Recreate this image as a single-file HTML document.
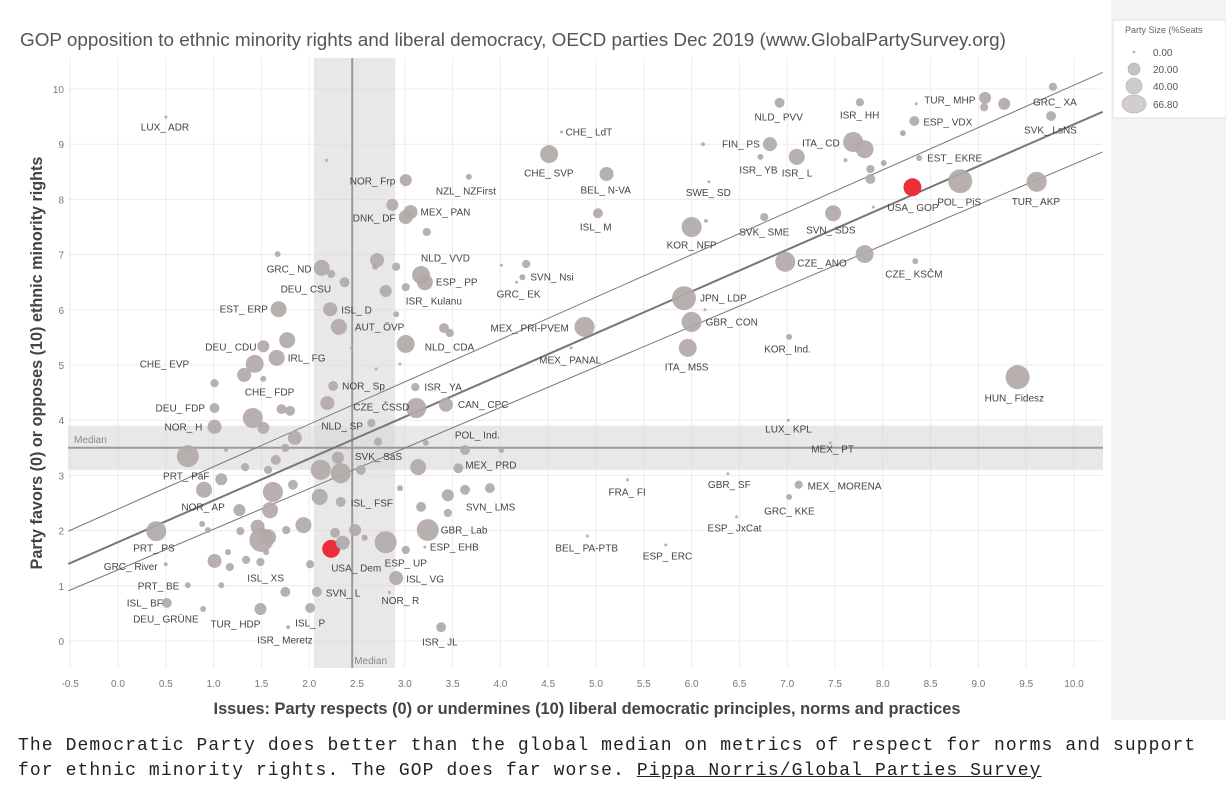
<!DOCTYPE html>
<html><head><meta charset="utf-8">
<style>
html,body{margin:0;padding:0;background:#fff;width:1226px;height:808px;overflow:hidden;}
svg text{font-family:"Liberation Sans",sans-serif;}
.cap{position:absolute;left:18px;top:734px;font-family:"Liberation Mono",monospace;font-size:18px;letter-spacing:1.1px;color:#222;line-height:25px;white-space:pre;}
.cap u{text-decoration:underline;}
</style></head>
<body>
<svg id="chart" width="1226" height="730" style="position:absolute;left:0;top:0">
<rect x="1111" y="0" width="115" height="720" fill="#f3f3f3"/>
<g>
<rect x="1113" y="20" width="113" height="98" fill="#fff" stroke="#e2e2e2"/>
<text x="1125" y="33" font-size="9" fill="#666">Party Size (%Seats</text>
<circle cx="1134" cy="52" r="1.3" fill="#b5acac"/>
<text x="1153" y="56" font-size="10" fill="#555">0.00</text>
<circle cx="1134" cy="69" r="6" fill="#c8c2c2" stroke="#aaa" stroke-width="0.6"/>
<text x="1153" y="73" font-size="10" fill="#555">20.00</text>
<circle cx="1134" cy="86" r="8" fill="#d0cbcb" stroke="#aaa" stroke-width="0.6"/>
<text x="1153" y="90" font-size="10" fill="#555">40.00</text>
<ellipse cx="1134" cy="104" rx="12" ry="9" fill="#d3cece" stroke="#aaa" stroke-width="0.6"/>
<text x="1153" y="108" font-size="10" fill="#555">66.80</text>
</g>
<text x="20" y="46" font-size="18.9" fill="#555">GOP opposition to ethnic minority rights and  liberal democracy, OECD parties Dec 2019 (www.GlobalPartySurvey.org)</text>
<g id="grid"></g>
<g id="bands"></g>
<g id="fit"></g>
<g id="pts"></g>
<g id="labels"></g>
<g id="ticks"></g>
<text x="587" y="714" font-size="16.4" font-weight="bold" fill="#444" text-anchor="middle">Issues: Party respects (0) or undermines (10) liberal democratic principles, norms and practices</text>
<text transform="translate(42,363) rotate(-90)" font-size="16.2" font-weight="bold" fill="#444" text-anchor="middle">Party favors (0) or opposes (10) ethnic minority rights</text>
</svg>
<div class="cap">The Democratic Party does better than the global median on metrics of respect for norms and support
for ethnic minority rights. The GOP does far worse. <u>Pippa Norris/Global Parties Survey</u></div>
<script>
const xTicks=["-0.5","0.0","0.5","1.0","1.5","2.0","2.5","3.0","3.5","4.0","4.5","5.0","5.5","6.0","6.5","7.0","7.5","8.0","8.5","9.0","9.5","10.0"];
const yTicks=["0","1","2","3","4","5","6","7","8","9","10"];
const medianX=2.45, medianY=3.5;
const bandX=[2.05,2.9], bandY=[3.1,3.9];
const fitMain=[1.79,0.757], fitUpper=[2.39,0.768], fitLower=[1.29,0.735];
const names=["NLD_ PVV","ISR_ HH","TUR_ MHP","","","","GRC_ XA","SVK_ LsNS","ESP_ VDX","CHE_ LdT","CHE_ SVP","BEL_ N-VA","NZL_ NZFirst","","FIN_ PS","ITA_ CD","","ISR_ YB","ISR_ L","","EST_ EKRE","","","","","USA_ GOP","POL_ PiS","TUR_ AKP","SWE_ SD","ISL_ M","KOR_ NFP","","SVK_ SME","SVN_ SDS","","CZE_ ANO","","CZE_ KSČM","","","SVN_ Nsi","GRC_ EK","JPN_ LDP","","GBR_ CON","MEX_ PRI-PVEM","MEX_ PANAL","ITA_ M5S","KOR_ Ind.","HUN_ Fidesz","LUX_ KPL","MEX_ PT","MEX_ MORENA","GBR_ SF","FRA_ FI","GRC_ KKE","ESP_ JxCat","BEL_ PA-PTB","ESP_ ERC",
"LUX_ ADR","","NOR_ Frp","","DNK_ DF","MEX_ PAN","","","GRC_ ND","","","","","NLD_ VVD","ESP_ PP","DEU_ CSU","","ISR_ Kulanu","EST_ ERP","ISL_ D","","AUT_ ÖVP","","","","NLD_ CDA","DEU_ CDU","IRL_ FG","CHE_ EVP","","","","","","",
"NOR_ Sp","ISR_ YA","DEU_ FDP","CHE_ FDP","","","","CZE_ ČSSD","CAN_ CPC","NOR_ H","","","","NLD_ SP","","","","POL_ Ind.","","","","","","SVK_ SaS","","","MEX_ PRD","","","PRT_ PàF","","","","","","ISL_ FSF","","","","","SVN_ LMS","","NOR_ AP","","PRT_ PS","","","","","","","","","","","ESP_ UP","GBR_ Lab","","ESP_ EHB","USA_ Dem","","","","","","","","","GRC_ River","ISL_ VG","PRT_ BE","","ISL_ XS","SVN_ L","ISL_ BF","DEU_ GRÜNE","TUR_ HDP","ISL_ P","ISR_ Meretz","ISR_ JL","NOR_ R"];
const xVals=[6.92,7.76,8.35,9.07,9.06,9.27,9.78,9.76,8.33,4.64,4.51,5.11,3.67,6.12,6.82,7.69,7.81,6.72,7.10,8.21,8.38,7.61,7.87,8.01,7.87,8.31,8.81,9.61,6.18,5.02,6.00,6.15,6.76,7.48,7.90,6.98,7.81,8.34,4.01,4.27,4.23,4.17,5.92,6.14,6.00,4.88,4.74,5.96,7.02,9.41,7.01,7.45,7.12,6.38,5.33,7.02,6.47,4.91,5.73,
0.50,2.18,3.01,2.87,3.01,3.06,3.23,1.67,2.13,2.23,2.71,2.69,2.91,3.17,3.21,2.37,2.80,3.01,1.68,2.22,2.91,2.31,3.41,3.47,1.77,3.01,1.52,1.66,1.43,1.32,1.52,1.01,2.44,2.70,2.95,
2.25,3.11,1.01,1.41,1.71,1.80,2.19,3.12,3.43,1.01,1.52,1.85,1.75,2.65,2.72,0.73,1.13,3.22,3.63,4.01,1.65,2.12,2.33,2.30,2.54,3.14,3.56,1.33,1.57,0.90,1.08,1.62,1.59,1.83,2.11,2.33,2.95,3.45,3.63,3.89,3.45,3.17,1.27,0.88,0.40,0.94,1.28,1.46,1.50,1.57,1.76,1.94,2.27,2.48,2.58,2.80,3.24,3.01,3.21,2.23,2.35,1.15,1.01,1.17,1.34,1.49,1.55,2.01,0.50,2.91,0.73,1.08,1.75,2.08,0.51,0.89,1.49,2.01,1.78,3.38,2.84];
const yVals=[9.75,9.76,9.73,9.84,9.67,9.73,10.04,9.51,9.42,9.22,8.82,8.46,8.41,9.00,9.00,9.04,8.91,8.77,8.77,9.20,8.75,8.71,8.55,8.66,8.37,8.22,8.33,8.32,8.32,7.75,7.50,7.61,7.68,7.75,7.86,6.87,7.01,6.88,6.81,6.83,6.59,6.50,6.21,6.00,5.78,5.69,5.31,5.31,5.51,4.78,4.00,3.59,2.83,3.03,2.92,2.61,2.25,1.90,1.74,
9.49,8.71,8.35,7.90,7.68,7.77,7.41,7.01,6.76,6.65,6.90,6.78,6.78,6.63,6.50,6.50,6.34,6.41,6.01,6.01,5.92,5.69,5.67,5.58,5.45,5.38,5.34,5.13,5.02,4.82,4.75,4.67,5.31,4.93,5.02,
4.62,4.60,4.22,4.04,4.20,4.17,4.31,4.22,4.28,3.88,3.86,3.68,3.50,3.95,3.61,3.35,3.46,3.59,3.46,3.46,3.28,3.10,3.04,3.32,3.10,3.15,3.13,3.15,3.10,2.74,2.93,2.70,2.37,2.83,2.61,2.52,2.77,2.64,2.74,2.77,2.32,2.43,2.37,2.12,1.99,2.01,1.99,2.07,1.83,1.88,2.01,2.10,1.96,2.01,1.87,1.79,2.01,1.65,1.70,1.67,1.78,1.61,1.45,1.34,1.47,1.43,1.61,1.39,1.39,1.14,1.01,1.01,0.89,0.89,0.69,0.58,0.58,0.60,0.25,0.25,0.88];
const sizes=[7,4,0,12,4,12,4,7,7,0,33,18,1.3,0.1,18,43,33,1.3,25,1.3,1.3,0.1,4,1.3,7,33,65,43,0,7,43,0.1,4,25,0,43,33,1.3,0,4,1.3,0,65,0,43,43,0,33,1.3,65,0,0,4,0,0,1.3,0,0,0,
0,0,12,12,18,18,4,1.3,25,4,18,1.3,4,33,25,7,12,4,25,18,1.3,25,7,4,25,33,12,25,33,18,1.3,4,0,0,0,
7,4,7,43,7,7,18,43,18,18,12,18,4,4,4,53,0.1,1.3,7,1.3,7,43,43,12,7,25,7,4,4,25,12,43,25,7,25,7,1.3,12,7,7,4,7,12,1.3,43,1.3,4,18,65,25,4,25,7,12,1.3,53,53,4,0,33,18,1.3,18,4,4,4,1.3,4,0.1,18,1.3,1.3,7,7,7,1.3,12,7,0.1,7,0];
const highlight={"USA_ GOP":1,"USA_ Dem":1};
const labelOff={"NLD_ PVV":[-25,14],"ISR_ HH":[-20,13],"TUR_ MHP":[8,-4],"GRC_ XA":[-20,15],"SVK_ LsNS":[-27,14],"ESP_ VDX":[9,1],"CHE_ LdT":[4,0],"CHE_ SVP":[-25,19],"BEL_ N-VA":[-26,16],"NZL_ NZFirst":[-33,14],"FIN_ PS":[-48,0],"ITA_ CD":[-51,1],"ISR_ YB":[-21,13],"ISR_ L":[-15,16],"EST_ EKRE":[8,0],"USA_ GOP":[-25,20],"POL_ PiS":[-23,21],"TUR_ AKP":[-25,20],"SWE_ SD":[-23,11],"ISL_ M":[-18,14],"KOR_ NFP":[-25,18],"SVK_ SME":[-25,15],"SVN_ SDS":[-27,17],"CZE_ ANO":[12,1],"CZE_ KSČM":[-30,13],"SVN_ Nsi":[8,0],"GRC_ EK":[-20,12],"JPN_ LDP":[16,0],"GBR_ CON":[14,0],"MEX_ PRI-PVEM":[-94,1],"MEX_ PANAL":[-32,12],"ITA_ M5S":[-23,19],"KOR_ Ind.":[-25,12],"HUN_ Fidesz":[-33,21],"LUX_ KPL":[-23,9],"MEX_ PT":[-19,6],"MEX_ MORENA":[9,1],"GBR_ SF":[-20,11],"FRA_ FI":[-19,12],"GRC_ KKE":[-25,14],"ESP_ JxCat":[-29,11],"BEL_ PA-PTB":[-32,12],"ESP_ ERC":[-23,11],
"LUX_ ADR":[-25,10],"NOR_ Frp":[-56,1],"DNK_ DF":[-53,1],"MEX_ PAN":[10,0],"GRC_ ND":[-55,1],"NLD_ VVD":[0,-17],"ESP_ PP":[11,0],"DEU_ CSU":[-64,7],"ISR_ Kulanu":[0,14],"EST_ ERP":[-59,0],"ISL_ D":[11,1],"AUT_ ÖVP":[16,0],"NLD_ CDA":[19,3],"DEU_ CDU":[-58,1],"IRL_ FG":[11,0],"CHE_ EVP":[-115,0],
"NOR_ Sp":[9,0],"ISR_ YA":[9,0],"DEU_ FDP":[-59,0],"CHE_ FDP":[-8,-26],"CZE_ ČSSD":[-63,-1],"CAN_ CPC":[12,0],"NOR_ H":[-50,0],"NLD_ SP":[-50,3],"POL_ Ind.":[29,-8],"SVK_ SaS":[17,-1],"MEX_ PRD":[7,-3],"PRT_ PàF":[-41,-14],"ISL_ FSF":[10,1],"SVN_ LMS":[18,-6],"NOR_ AP":[-58,-3],"PRT_ PS":[-23,17],"ESP_ UP":[-1,21],"GBR_ Lab":[13,0],"ESP_ EHB":[5,0],"USA_ Dem":[0,19],"GRC_ River":[-62,2],"ISL_ VG":[10,1],"PRT_ BE":[-50,1],"ISL_ XS":[-38,-14],"SVN_ L":[9,1],"ISL_ BF":[-40,0],"DEU_ GRÜNE":[-70,10],"TUR_ HDP":[-50,15],"ISL_ P":[-15,15],"ISR_ Meretz":[-31,13],"ISR_ JL":[-19,15],"NOR_ R":[-8,8]};

const NS="http://www.w3.org/2000/svg";
const X0=68,X1=1103,Y0=58,Y1=668;
function sx(v){return 118+95.6*v;}
function sy(v){return 641-55.2*v;}
function rad(s){return 1.5+1.3*Math.sqrt(s);}
function mk(tag,parent,attrs){const e=document.createElementNS(NS,tag);for(const k in attrs)e.setAttribute(k,attrs[k]);document.getElementById(parent).appendChild(e);return e;}

xTicks.forEach(function(t){const v=parseFloat(t);
  const l=mk('line','grid',{x1:sx(v),x2:sx(v),y1:Y0,y2:Y1,stroke:'#ececec','stroke-width':1});
  
  
  const tx=mk('text','ticks',{x:sx(v),y:687,'font-size':10,fill:'#777','text-anchor':'middle'});tx.textContent=t;
  
  
});
yTicks.forEach(function(t){const v=parseFloat(t);
  const l=mk('line','grid',{x1:X0,x2:X1,y1:sy(v),y2:sy(v),stroke:'#ececec','stroke-width':1});
  
  
  const tx=mk('text','ticks',{x:64,y:sy(v)+4,'font-size':10,fill:'#777','text-anchor':'end'});tx.textContent=t;
  
  
});
let b=mk('rect','bands',{x:sx(bandX[0]),y:Y0,width:sx(bandX[1])-sx(bandX[0]),height:Y1-Y0,fill:'#d6d6d6','fill-opacity':0.55});


b=mk('rect','bands',{x:X0,y:sy(bandY[1]),width:X1-X0,height:sy(bandY[0])-sy(bandY[1]),fill:'#d6d6d6','fill-opacity':0.55});


b=mk('line','bands',{x1:sx(medianX),x2:sx(medianX),y1:Y0,y2:Y1,stroke:'#9a9a9a','stroke-width':2});


b=mk('line','bands',{x1:X0,x2:X1,y1:sy(medianY),y2:sy(medianY),stroke:'#9a9a9a','stroke-width':2});


let mt=mk('text','bands',{x:74,y:sy(medianY)-5,'font-size':10,fill:'#888'});mt.textContent='Median';


mt=mk('text','bands',{x:sx(medianX)+2,y:664,'font-size':10,fill:'#888'});mt.textContent='Median';


[[fitUpper,1,'fit-upper-bound'],[fitMain,2,'fit-line'],[fitLower,1,'fit-lower-bound']].forEach(function(f){
  const xa=-0.52,xb=10.3;
  const l=mk('line','fit',{x1:sx(xa),y1:sy(f[0][0]+f[0][1]*xa),x2:sx(xb),y2:sy(f[0][0]+f[0][1]*xb),stroke:'#777','stroke-width':f[1]});
  
  
});
names.forEach(function(n,i){
  const red=!!highlight[n];
  const c=mk('circle','pts',{cx:sx(xVals[i]),cy:sy(yVals[i]),r:rad(sizes[i]),fill:red?'#ec2d3a':'#b2a8a8','fill-opacity':red?1:0.92});
  
  
  if(n&&labelOff[n]){
    const o=labelOff[n];
    const t=mk('text','labels',{x:sx(xVals[i])+o[0],y:sy(yVals[i])+o[1]+3.5,'font-size':10,fill:'#444'});
    t.textContent=n;
    
    
  }
});
</script>
</body></html>
